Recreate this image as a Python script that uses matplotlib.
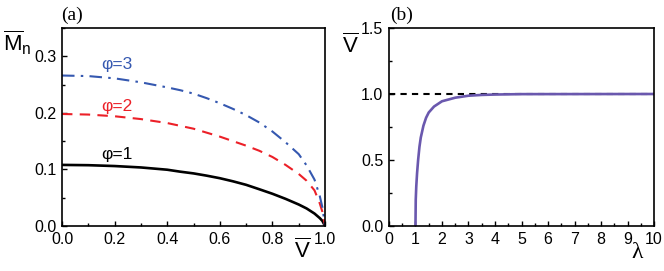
import matplotlib
matplotlib.use("Agg")
import matplotlib.pyplot as plt
from matplotlib.ticker import MultipleLocator, FormatStrFormatter

plt.rcParams['font.family'] = ['Liberation Sans', 'DejaVu Sans']
plt.rcParams['mathtext.fontset'] = 'custom'
plt.rcParams['mathtext.rm'] = 'Liberation Sans'
plt.rcParams['mathtext.it'] = 'Liberation Sans'

# panel (a): Mn vs V for three phi values
v_bar = [0, 0.1, 0.2, 0.3, 0.4, 0.45, 0.5, 0.55, 0.6, 0.65, 0.7, 0.75, 0.8, 0.85, 0.9, 0.93, 0.96, 0.98, 0.99, 1.0]
mn_phi1 = [0.108, 0.1075, 0.106, 0.1035, 0.0995, 0.096, 0.093, 0.089, 0.0845, 0.079, 0.0728, 0.065, 0.057, 0.048, 0.038, 0.031, 0.022, 0.014, 0.009, 0.0]
mn_phi2 = [0.198, 0.197, 0.194, 0.189, 0.182, 0.177, 0.172, 0.165, 0.158, 0.150, 0.142, 0.133, 0.122, 0.108, 0.092, 0.080, 0.063, 0.040, 0.025, 0.0]
mn_phi3 = [0.266, 0.265, 0.261, 0.254, 0.245, 0.240, 0.234, 0.226, 0.217, 0.207, 0.196, 0.183, 0.167, 0.148, 0.127, 0.107, 0.082, 0.053, 0.033, 0.0]

# panel (b): V vs lambda
lam = [1.0, 1.01, 1.03, 1.06, 1.1, 1.15, 1.2, 1.3, 1.4, 1.5, 1.7, 2.0, 2.5, 3.0, 3.5, 4, 5, 10]
v_lam = [0, 0.2, 0.3, 0.4, 0.5, 0.6, 0.67, 0.76, 0.82, 0.86, 0.905, 0.945, 0.972, 0.987, 0.993, 0.996, 0.999, 1.0]
v_limit = 1.0

fig = plt.figure(figsize=(6.64, 2.71), dpi=100)
ax1 = fig.add_axes([0.0934, 0.166, 0.3961, 0.7307])
ax2 = fig.add_axes([0.5858, 0.166, 0.3992, 0.7307])

ax1.plot(v_bar, mn_phi1, color='black', lw=1.9)
ax1.plot(v_bar, mn_phi2, color='#ec2028', lw=1.5, dashes=(5, 3.5))
ax1.plot(v_bar, mn_phi3, color='#3558b0', lw=1.5, dashes=(6, 3, 1.2, 3))
ax1.text(0.21, 0.285, 'φ=3', color='#3558b0', fontsize=12.5, ha='center', va='center')
ax1.text(0.21, 0.212, 'φ=2', color='#ec2028', fontsize=12.5, ha='center', va='center')
ax1.text(0.21, 0.126, 'φ=1', color='black', fontsize=12.5, ha='center', va='center')
ax1.set_xlim(0, 1.0)
ax1.set_ylim(0, 0.35)
ax1.xaxis.set_major_locator(MultipleLocator(0.2))
ax1.xaxis.set_minor_locator(MultipleLocator(0.1))
ax1.yaxis.set_major_locator(MultipleLocator(0.1))
ax1.yaxis.set_minor_locator(MultipleLocator(0.05))
ax1.xaxis.set_major_formatter(FormatStrFormatter('%.1f'))
ax1.yaxis.set_major_formatter(FormatStrFormatter('%.1f'))
fig.text(0.004, 0.84, r'$\overline{\mathrm{M}}_{\mathrm{n}}$', fontsize=16, ha='left', va='center')
fig.text(0.455, 0.075, r'$\overline{\mathrm{V}}$', fontsize=16, ha='center', va='center')
fig.text(0.092, 0.945, '(a)', fontsize=14, family='Liberation Serif', ha='left', va='center')

ax2.plot(lam, v_lam, color='#6a58ae', lw=1.9)
ax2.axhline(v_limit, color='black', lw=1.5, dashes=(3, 2.5), zorder=1)
ax2.set_xlim(0, 10)
ax2.set_ylim(0, 1.5)
ax2.xaxis.set_major_locator(MultipleLocator(1))
ax2.xaxis.set_minor_locator(MultipleLocator(0.5))
ax2.yaxis.set_major_locator(MultipleLocator(0.5))
ax2.yaxis.set_minor_locator(MultipleLocator(0.25))
ax2.yaxis.set_major_formatter(FormatStrFormatter('%.1f'))
fig.text(0.515, 0.83, r'$\overline{\mathrm{V}}$', fontsize=16, ha='left', va='center')
fig.text(0.96, 0.07, 'λ', fontsize=17, family='Liberation Serif', ha='center', va='center')
fig.text(0.588, 0.945, '(b)', fontsize=14, family='Liberation Serif', ha='left', va='center')

for ax in (ax1, ax2):
    for s in ax.spines.values():
        s.set_linewidth(1.2)
    ax.tick_params(which='both', direction='in', top=False, right=False, labelsize=11.5, width=1.0)
    ax.tick_params(which='major', length=3.5)
    ax.tick_params(which='minor', length=2)
    ax.tick_params(axis='x', which='major', pad=4.5)
    ax.tick_params(axis='y', which='major', pad=4)

fig.savefig('out.png', dpi=100)
